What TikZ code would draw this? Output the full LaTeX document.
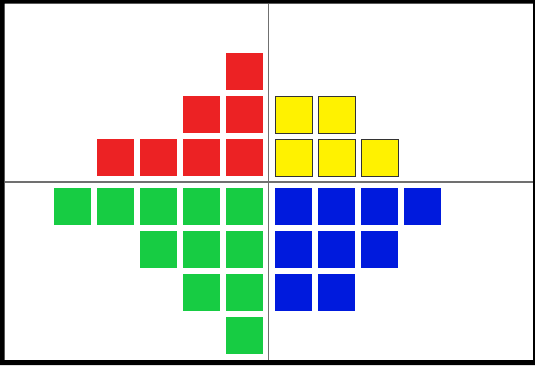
\documentclass[tikz,border=0pt]{standalone}
\definecolor{cred}{HTML}{EC2224}
\definecolor{cyel}{HTML}{FFF200}
\definecolor{cgrn}{HTML}{17CC43}
\definecolor{cblu}{HTML}{001ADD}
\definecolor{caxis}{HTML}{707070}
\tikzset{
  sq/.style={minimum size=37pt, inner sep=0pt, outer sep=0pt, draw=none},
  redsq/.style={sq, fill=cred},
  yelsq/.style={sq, fill=cyel, draw=black!80, line width=0.9pt, minimum size=37pt},
  grnsq/.style={sq, fill=cgrn},
  blusq/.style={sq, fill=cblu},
  axisline/.style={draw=caxis, line width=1.5pt}
}
\begin{document}
\begin{tikzpicture}[x=1pt,y=-1pt]
\useasboundingbox (0,0) rectangle (535,365);
\fill[white] (0,0) rectangle (535,365);
% axes
\coordinate (vtop) at (268.5,3.7);
\coordinate (vbot) at (268.5,360);
\coordinate (hl) at (4.7,182);
\coordinate (hr) at (533,182);
\draw[axisline] (vtop) -- (vbot);
\draw[axisline] (hl) -- (hr);
% red
\foreach \c/\r [count=\i] in {226/53, 183/96, 226/96, 97/139, 140/139, 183/139, 226/139}
  \node[redsq] (red\i) at (\c+18.5,\r+18.5) {};
% yellow
\foreach \c/\r [count=\i] in {275/96, 318/96, 275/139, 318/139, 361/139}
  \node[yelsq] (yel\i) at (\c+18.5,\r+18.5) {};
% green
\foreach \c/\r [count=\i] in {54/188, 97/188, 140/188, 183/188, 226/188, 140/231, 183/231, 226/231, 183/274, 226/274, 226/317}
  \node[grnsq] (grn\i) at (\c+18.5,\r+18.5) {};
% blue
\foreach \c/\r [count=\i] in {275/188, 318/188, 361/188, 404/188, 275/231, 318/231, 361/231, 275/274, 318/274}
  \node[blusq] (blu\i) at (\c+18.5,\r+18.5) {};
% frame
\fill[black, even odd rule] (0,0) rectangle (535,365) (4.7,3.7) rectangle (533,360);
\end{tikzpicture}
\end{document}
